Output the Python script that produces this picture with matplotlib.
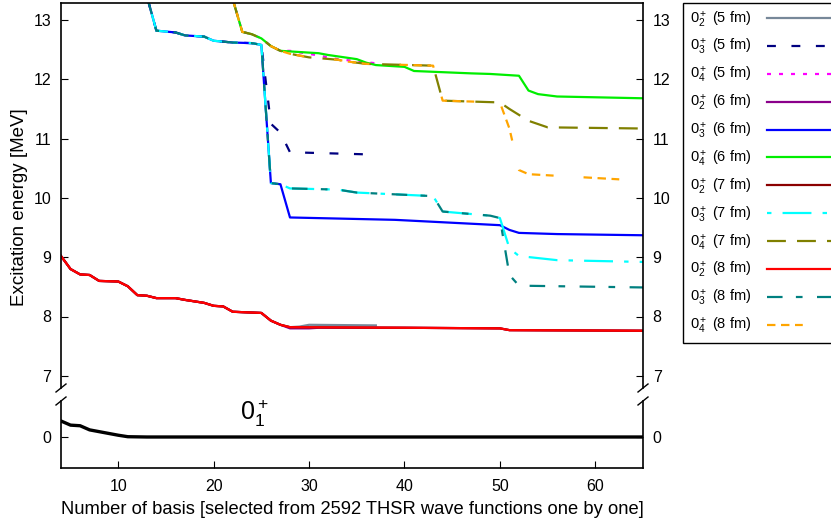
import matplotlib
matplotlib.use('Agg')
import matplotlib.pyplot as plt
from matplotlib.lines import Line2D

plt.rcParams['font.family'] = ['Liberation Sans', 'DejaVu Sans']
plt.rcParams['mathtext.fontset'] = 'custom'
plt.rcParams['mathtext.rm'] = 'Liberation Sans'
plt.rcParams['mathtext.it'] = 'Liberation Sans:italic'

# 0_1+ ground state (lower panel)
x_g = [4, 5, 6, 7, 8, 9, 10, 11, 13, 65]
e_g = [0.27, 0.20, 0.19, 0.12, 0.09, 0.06, 0.03, 0.005, 0.0, 0.0]

# 0_2+ (common path)
x_02 = [4, 5, 6, 7, 8, 10, 11, 12, 13, 14, 16, 17, 19, 20, 21, 22, 25, 26, 27]
e_02 = [9.02, 8.80, 8.71, 8.70, 8.60, 8.59, 8.51, 8.36, 8.35, 8.31, 8.31, 8.28, 8.23, 8.18, 8.17, 8.08, 8.06, 7.93, 7.86]
x_02_5 = x_02 + [28, 29, 30, 37]
e_02_5 = e_02 + [7.82, 7.83, 7.86, 7.85]
x_02_6 = x_02 + [28, 30, 31, 40, 50, 51, 65]
e_02_6 = e_02 + [7.80, 7.80, 7.81, 7.81, 7.80, 7.77, 7.76]
x_02_7 = x_02 + [28, 40, 50, 51, 65]
e_02_7 = e_02 + [7.82, 7.81, 7.80, 7.77, 7.76]
x_02_8 = x_02 + [28, 40, 50, 51, 65]
e_02_8 = e_02 + [7.82, 7.81, 7.80, 7.77, 7.76]

# 0_3+ (common path from top)
x_03 = [13, 14, 16, 17, 19, 20, 22, 24, 25]
e_03 = [13.40, 12.82, 12.79, 12.74, 12.72, 12.65, 12.62, 12.61, 12.58]
x_03_5 = x_03 + [26, 27, 28, 37]
e_03_5 = e_03 + [11.25, 11.10, 10.77, 10.73]
x_03_6 = x_03 + [26, 27, 28, 39, 50, 51, 52, 56, 65]
e_03_6 = e_03 + [10.25, 10.23, 9.67, 9.63, 9.54, 9.46, 9.41, 9.39, 9.37]
x_03_7 = x_03 + [26, 27, 28, 33, 35, 43, 44, 49, 50, 51, 52, 56, 65]
e_03_7 = e_03 + [10.25, 10.23, 10.16, 10.14, 10.09, 10.03, 9.77, 9.70, 9.66, 9.15, 9.02, 8.95, 8.92]
x_03_8 = x_03 + [26, 27, 28, 33, 35, 43, 44, 49, 50, 51, 52, 65]
e_03_8 = e_03 + [10.25, 10.23, 10.16, 10.14, 10.09, 10.03, 9.77, 9.70, 9.66, 8.70, 8.52, 8.49]

# 0_4+ (common path from top)
x_04 = [22, 23, 24, 25, 26, 27]
e_04 = [13.35, 12.80, 12.76, 12.69, 12.56, 12.48]
x_04_5 = x_04 + [28, 30, 33, 37]
e_04_5 = e_04 + [12.48, 12.43, 12.34, 12.27]
x_04_6 = x_04 + [28, 31, 32, 35, 36, 37, 40, 41, 47, 49, 52, 53, 54, 56, 65]
e_04_6 = e_04 + [12.47, 12.44, 12.41, 12.34, 12.28, 12.24, 12.21, 12.14, 12.10, 12.09, 12.06, 11.81, 11.75, 11.71, 11.68]
x_04_7 = x_04 + [28, 30, 33, 34, 36, 43, 44, 50, 51, 53, 55, 65]
e_04_7 = e_04 + [12.43, 12.37, 12.33, 12.30, 12.26, 12.23, 11.64, 11.61, 11.50, 11.30, 11.19, 11.17]
x_04_8 = x_04 + [28, 30, 33, 34, 36, 43, 44, 50, 51, 52, 53, 65]
e_04_8 = e_04 + [12.43, 12.37, 12.33, 12.30, 12.26, 12.23, 11.64, 11.61, 11.17, 10.47, 10.40, 10.29]

W, H = 831, 523
fig = plt.figure(figsize=(W / 100, H / 100), dpi=100)

def fx(px):
    return px / W

def fy(py):
    return 1 - py / H

L, R = 61, 643
top_up, bot_up = 3, 388
top_lo, bot_lo = 401, 468
ax = fig.add_axes([fx(L), fy(bot_up), fx(R) - fx(L), fy(top_up) - fy(bot_up)])
axl = fig.add_axes([fx(L), fy(bot_lo), fx(R) - fx(L), fy(top_lo) - fy(bot_lo)])

lw = 1.6
series = [
    (x_02_5, e_02_5, '#778899', (None, None), '$0_2^+$ (5 fm)'),
    (x_03_5, e_03_5, '#000080', (4, 7), '$0_3^+$ (5 fm)'),
    (x_04_5, e_04_5, '#ff00ff', (1.8, 3.6), '$0_4^+$ (5 fm)'),
    (x_02_6, e_02_6, '#8b008b', (None, None), '$0_2^+$ (6 fm)'),
    (x_03_6, e_03_6, '#0000ff', (None, None), '$0_3^+$ (6 fm)'),
    (x_04_6, e_04_6, '#00ee00', (None, None), '$0_4^+$ (6 fm)'),
    (x_02_7, e_02_7, '#8b0000', (None, None), '$0_2^+$ (7 fm)'),
    (x_03_7, e_03_7, '#00ffff', (2, 5, 13, 5), '$0_3^+$ (7 fm)'),
    (x_04_7, e_04_7, '#808000', (8.5, 5), '$0_4^+$ (7 fm)'),
    (x_02_8, e_02_8, '#ff0000', (None, None), '$0_2^+$ (8 fm)'),
    (x_03_8, e_03_8, '#008080', (7, 6, 3, 6.5), '$0_3^+$ (8 fm)'),
    (x_04_8, e_04_8, '#ffa500', (3.8, 2.5, 3.8, 2.5, 3.5, 13.5), '$0_4^+$ (8 fm)'),
]

handles = []
for xs, es, c, d, lab in series:
    if d[0] is None:
        line, = ax.plot(xs, es, color=c, lw=lw, label=lab)
    else:
        line, = ax.plot(xs, es, color=c, lw=lw, dashes=d, label=lab)
    handles.append(line)

axl.plot(x_g, e_g, color='black', lw=2.4)
axl.text(24.3, 0.40, '$0_1^+$', fontsize=18, ha='center', va='center')

ax.set_xlim(4, 65)
ax.set_ylim(13 - (bot_up - 20) / 59.3, 13 + 17 / 59.3)
ax.set_yticks([7, 8, 9, 10, 11, 12, 13])
ax.spines['bottom'].set_visible(False)
ax.tick_params(axis='y', direction='in', left=True, right=True, labelleft=True, labelright=True,
               length=5, labelsize=11.5, pad=7)
ax.tick_params(axis='x', bottom=False, top=False, labelbottom=False)

axl.set_xlim(4, 65)
axl.set_ylim(-(bot_lo - 437) / 59.3, (437 - top_lo) / 59.3)
axl.set_yticks([0])
axl.set_xticks([10, 20, 30, 40, 50, 60])
axl.spines['top'].set_visible(False)
axl.tick_params(axis='y', direction='in', left=True, right=True, labelleft=True, labelright=True,
                length=5, labelsize=11.5, pad=7)
axl.tick_params(axis='x', direction='in', bottom=True, top=False, length=5, labelsize=11.5, pad=8)
for a in (ax, axl):
    for s in a.spines.values():
        s.set_linewidth(1.2)

# break marks on both sides
for xp in (L, R):
    for yp in (bot_up, top_lo):
        fig.add_artist(Line2D([fx(xp - 5), fx(xp + 5)], [fy(yp + 4), fy(yp - 4)],
                              color='black', lw=1.0, transform=fig.transFigure))

axl.set_xlabel('Number of basis [selected from 2592 THSR wave functions one by one]', fontsize=13.2, labelpad=5)
fig.text(fx(20), fy(207), 'Excitation energy [MeV]', rotation=90, ha='center', va='center', fontsize=13.5)

leg = fig.legend(handles=handles, loc='upper left', bbox_to_anchor=(fx(683), fy(3)),
                 markerfirst=False, handlelength=4.6, fontsize=10.5, frameon=True, fancybox=False,
                 edgecolor='black', framealpha=1, borderaxespad=0, labelspacing=0.54,
                 handletextpad=1.1, borderpad=0.45)
leg.get_frame().set_linewidth(1.0)

fig.savefig('out.png', dpi=100)
